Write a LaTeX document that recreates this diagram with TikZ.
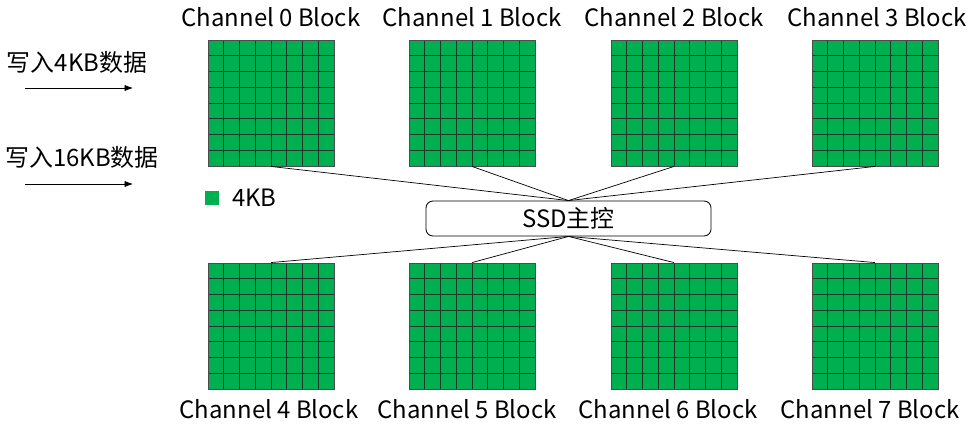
\documentclass[tikz,border=0pt]{standalone}
\usepackage{fontspec}
\setmainfont{Noto Sans CJK SC}
\usepackage{xcolor}
\usepackage{tikz}
\usetikzlibrary{arrows.meta}
\usetikzlibrary{calc}
\definecolor{blockgreen}{HTML}{00B050}
\definecolor{gridgray}{HTML}{203828}
\tikzset{
  gridline/.style={draw=gridgray, line width=0.55pt},
  chblock/.style={draw=black!70, fill=blockgreen, line width=0.6pt, minimum size=3.15cm, inner sep=0pt,
    path picture={
      \foreach \k in {1,...,7} {
        \draw [gridline] ($(path picture bounding box.south west)!\k/8!(path picture bounding box.south east)$) -- ($(path picture bounding box.north west)!\k/8!(path picture bounding box.north east)$);
        \draw [gridline] ($(path picture bounding box.south west)!\k/8!(path picture bounding box.north west)$) -- ($(path picture bounding box.south east)!\k/8!(path picture bounding box.north east)$);
      }
    }},
  chlabel/.style={font=\fontsize{17}{20}\selectfont, inner sep=0pt},
  ctrlbox/.style={draw, rounded corners=5pt, minimum width=7.125cm, minimum height=0.875cm, line width=0.6pt, font=\fontsize{17}{20}\selectfont},
  wire/.style={line width=0.5pt},
  feed/.style={line width=0.6pt, -{Latex[length=6pt,width=4.5pt]}},
}
\begin{document}
\begin{tikzpicture}[x=0.025cm, y=0.025cm]
                    \useasboundingbox (0,0) rectangle (978,437);
                    
                    % Drawing block 0
                    \node [chblock] (b0) at (271,334) {};%
                    \node [chlabel] (l0) at (271,420) {Channel 0 Block};%
                    
                    % Drawing block 1
                    \node [chblock] (b1) at (472,334) {};%
                    \node [chlabel] (l1) at (472,420) {Channel 1 Block};%
                    
                    % Drawing block 2
                    \node [chblock] (b2) at (674,334) {};%
                    \node [chlabel] (l2) at (674,420) {Channel 2 Block};%
                    
                    % Drawing block 3
                    \node [chblock] (b3) at (875,334) {};%
                    \node [chlabel] (l3) at (877,420) {Channel 3 Block};%
                    
                    % Drawing block 4
                    \node [chblock] (b4) at (271,111) {};%
                    \node [chlabel] (l4) at (269,28) {Channel 4 Block};%
                    
                    % Drawing block 5
                    \node [chblock] (b5) at (472,111) {};%
                    \node [chlabel] (l5) at (467,28) {Channel 5 Block};%
                    
                    % Drawing block 6
                    \node [chblock] (b6) at (674,111) {};%
                    \node [chlabel] (l6) at (668,28) {Channel 6 Block};%
                    
                    % Drawing block 7
                    \node [chblock] (b7) at (875,111) {};%
                    \node [chlabel] (l7) at (870,28) {Channel 7 Block};%
                    
                    % Drawing controller
                    \node [ctrlbox] (ssd) at (568.5,218.5) {SSD主控};%
                    
                    % Drawing wires to controller
                    \draw [wire] (b0.south) -- (ssd.north);%
                    \draw [wire] (b1.south) -- (ssd.north);%
                    \draw [wire] (b2.south) -- (ssd.north);%
                    \draw [wire] (b3.south) -- (ssd.north);%
                    \draw [wire] (b4.north) -- (ssd.south);%
                    \draw [wire] (b5.north) -- (ssd.south);%
                    \draw [wire] (b6.north) -- (ssd.south);%
                    \draw [wire] (b7.north) -- (ssd.south);%
                    
                    % Drawing legend
                    \node [fill=blockgreen, minimum size=0.36cm, inner sep=0pt] (key) at (212,239) {};%
                    \node [chlabel, anchor=west] (keytext) at (232,239) {4KB};%
                    
                    % Drawing write requests
                    \node [chlabel] (w4) at (77,375) {写入4KB数据};%
                    \coordinate (w4a) at (25,349);%
                    \coordinate (w4b) at (133,349);%
                    \draw [feed] (w4a) -- (w4b);%
                    \node [chlabel] (w16) at (82,280) {写入16KB数据};%
                    \coordinate (w16a) at (25,253);%
                    \coordinate (w16b) at (133,253);%
                    \draw [feed] (w16a) -- (w16b);%
\end{tikzpicture}
\end{document}
